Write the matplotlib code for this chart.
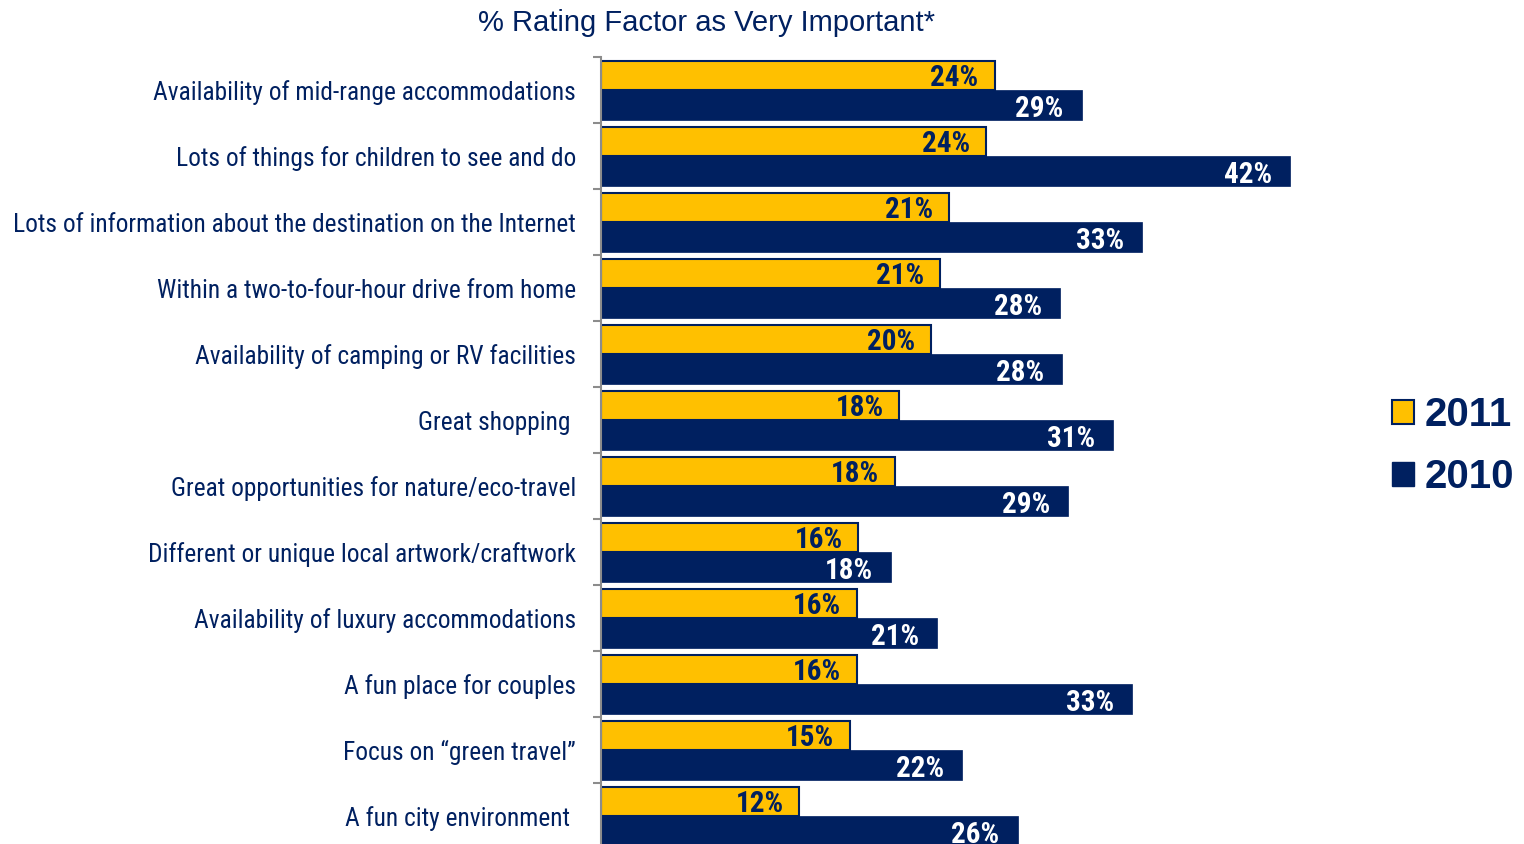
import matplotlib.pyplot as plt
from matplotlib.patches import Patch
import numpy as np

# categories, top to bottom (trailing spaces kept as in the original)
categories = [
    "Availability of mid-range accommodations",
    "Lots of things for children to see and do",
    "Lots of information about the destination on the Internet",
    "Within a two-to-four-hour drive from home",
    "Availability of camping or RV facilities",
    "Great shopping ",
    "Great opportunities for nature/eco-travel",
    "Different or unique local artwork/craftwork",
    "Availability of luxury accommodations",
    "A fun place for couples",
    "Focus on \u201cgreen travel\u201d",
    "A fun city environment ",
]
# bar lengths
vals_2011 = [24.0, 23.5, 21.2, 20.7, 20.1, 18.2, 17.9, 15.7, 15.6, 15.6, 15.2, 12.1]
vals_2010 = [29.3, 42.0, 33.0, 28.0, 28.1, 31.2, 28.5, 17.7, 20.5, 32.4, 22.0, 25.4]
# printed labels
labels_2011 = [24, 24, 21, 21, 20, 18, 18, 16, 16, 16, 15, 12]
labels_2010 = [29, 42, 33, 28, 28, 31, 29, 18, 21, 33, 22, 26]

YELLOW = "#FFC000"
NAVY = "#002060"
W, H = 1524, 844

fig = plt.figure(figsize=(W / 100, H / 100), dpi=100)
# axes in pixel terms: left 601, top 57, bottom 849 (slightly below the image)
left, top, bottom, right = 601, 57, 849, 1339
ax = fig.add_axes([left / W, 1 - bottom / H, (right - left) / W, (bottom - top) / H])

y = np.arange(len(categories))
b11 = ax.barh(y - 0.22, vals_2011, height=0.43, color=YELLOW, edgecolor=NAVY, linewidth=1.5)
b10 = ax.barh(y + 0.225, vals_2010, height=0.455, color=NAVY, edgecolor=NAVY, linewidth=0.5)

narrow = ["Roboto Condensed", "DejaVu Sans"]
for bar, lab in zip(b11, labels_2011):
    ax.annotate(f"{lab}%", (bar.get_width(), bar.get_y() + bar.get_height() / 2),
                xytext=(-16, -3), textcoords="offset pixels", ha="right", va="center",
                fontsize=21, fontweight="bold", color=NAVY, family=narrow)
for bar, lab in zip(b10, labels_2010):
    ax.annotate(f"{lab}%", (bar.get_width(), bar.get_y() + bar.get_height() / 2),
                xytext=(-18, -4), textcoords="offset pixels", ha="right", va="center",
                fontsize=21, fontweight="bold", color="white", family=narrow)

ax.set_xlim(0, (right - left) / 16.4)
ax.set_ylim(len(categories) - 0.5, -0.5)

for s in ["top", "right", "bottom"]:
    ax.spines[s].set_visible(False)
ax.spines["left"].set_color("#8c8c8c")
ax.spines["left"].set_linewidth(1.5)
ax.set_xticks([])
ax.set_yticks(y)
ax.set_yticklabels(categories, family=narrow, fontsize=18.3, color=NAVY)
ax.tick_params(axis="y", which="major", length=0, pad=18)
ax.set_yticks(np.arange(-0.5, len(categories), 1.0), minor=True)
ax.tick_params(axis="y", which="minor", length=6, width=1.5, color="#8c8c8c")

fig.text(707 / W, 1 - 23 / H, "% Rating Factor as Very Important*", ha="center", va="center",
         fontsize=21, color=NAVY, family=["Liberation Sans", "DejaVu Sans"])

handles = [Patch(facecolor=YELLOW, edgecolor=NAVY, linewidth=1.5, label="2011"),
           Patch(facecolor=NAVY, edgecolor=NAVY, label="2010")]
fig.legend(handles=handles, loc="center left", bbox_to_anchor=(1372 / W, 1 - 446 / H),
           frameon=False, handlelength=0.55, handleheight=0.55, handletextpad=0.25,
           labelspacing=0.6, borderpad=0, labelcolor=NAVY,
           prop={"family": ["Liberation Sans", "DejaVu Sans"], "weight": "bold", "size": 29})

fig.savefig("out.png", dpi=100)
